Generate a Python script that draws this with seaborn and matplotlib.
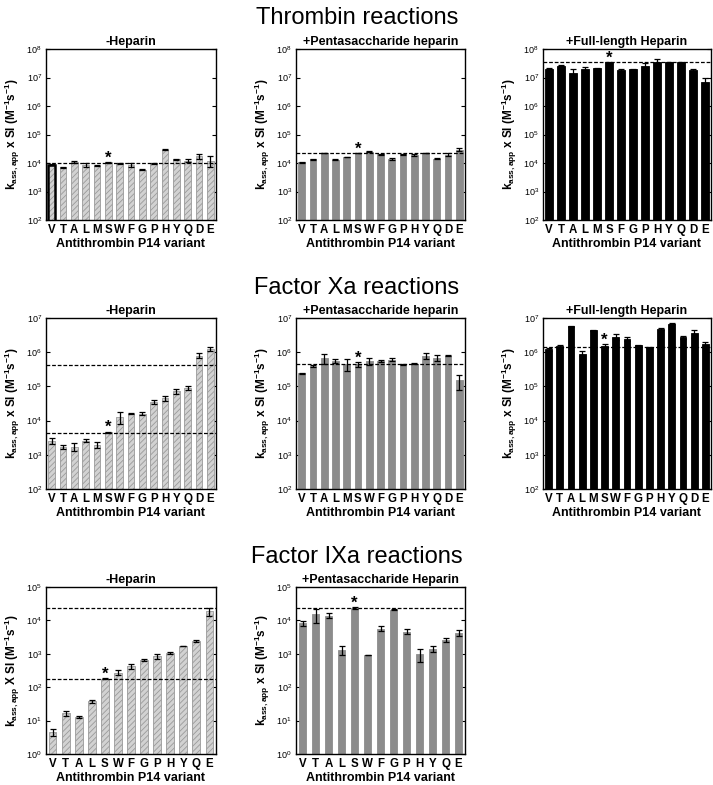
import numpy as np
import pandas as pd
import seaborn as sns
import matplotlib.pyplot as plt

# categories (antithrombin P14 variants)
cats_all = list("VTALMSWFGPHYQDE")
cats_thr_full = list("VTALMSFGPHYQDE")
cats_ixa = list("VTALSWFGPHYQE")

# thrombin
thr_hep_vals = [8.7e3, 7.1e3, 1.1e4, 8.5e3, 8.1e3, 1.05e4, 9.5e3, 8.5e3, 5.9e3, 9.8e3, 2.9e4, 1.35e4, 1.2e4, 1.75e4, 1.2e4]
thr_hep_errs = [4e2, 3e2, 6e2, 1.5e3, 3e2, 6e2, 4e2, 1.2e3, 3e2, 3e2, 8e2, 8e2, 1.5e3, 4e3, 5e3]
thr_hep_ref = [1.0e4]

thr_penta_vals = [1.05e4, 1.35e4, 2.25e4, 1.3e4, 1.63e4, 2.25e4, 2.45e4, 2.0e4, 1.38e4, 2.0e4, 1.9e4, 2.25e4, 1.42e4, 1.97e4, 2.95e4]
thr_penta_errs = [4e2, 6e2, 5e2, 5e2, 5e2, 5e2, 1e3, 1.5e3, 6e2, 1e3, 1e3, 5e2, 6e2, 2.5e3, 3e3]
thr_penta_ref = [2.25e4]

thr_full_vals = [2.02e7, 2.58e7, 1.42e7, 1.97e7, 2.13e7, 3.38e7, 1.86e7, 1.97e7, 2.58e7, 3.57e7, 3.38e7, 3.38e7, 1.86e7, 7.2e6]
thr_full_errs = [8e5, 1e6, 5e6, 3e6, 8e5, 1e6, 1.5e6, 8e5, 6e6, 9e6, 1e6, 1e6, 1.5e6, 2.5e6]
thr_full_ref = [3.4e7]

# factor Xa
xa_hep_vals = [2.58e3, 1.7e3, 1.7e3, 2.6e3, 1.97e3, 4.5e3, 1.3e4, 1.6e4, 1.6e4, 3.55e4, 4.6e4, 7.2e4, 9.1e4, 8.0e5, 1.25e6]
xa_hep_errs = [5e2, 2.5e2, 4.5e2, 3e2, 4e2, 3e2, 5e3, 5e2, 1.5e3, 4e3, 8e3, 1.2e4, 1.2e4, 1.2e5, 2e5]
xa_hep_ref = [4.3e3, 4.3e5]

xa_penta_vals = [2.4e5, 3.9e5, 6.8e5, 5.7e5, 4.6e5, 4.4e5, 5.5e5, 5.5e5, 6.1e5, 4.4e5, 4.6e5, 7.9e5, 6.8e5, 8.0e5, 1.5e5]
xa_penta_errs = [1e4, 2e4, 2.2e5, 8e4, 1.7e5, 6e4, 1.2e5, 4e4, 5e4, 1e4, 2e4, 1.7e5, 1.4e5, 3e4, 7e4]
xa_penta_ref = [4.4e5]

xa_full_vals = [1.2e6, 1.5e6, 5.7e6, 9.0e5, 4.4e6, 1.5e6, 2.8e6, 2.5e6, 1.6e6, 1.4e6, 4.7e6, 6.8e6, 2.7e6, 3.6e6, 1.7e6]
xa_full_errs = [1e5, 1.5e5, 3e5, 1.5e5, 1e5, 2e5, 5e5, 3.5e5, 5e4, 5e4, 3e5, 2e5, 2e5, 1e6, 3e5]
xa_full_ref = [1.43e6]

# factor IXa
ixa_hep_vals = [4.6, 16.5, 13, 38, 181, 275, 420, 660, 840, 1070, 1730, 2400, 1.9e4]
ixa_hep_errs = [1.2, 2.5, 0.8, 4, 5, 50, 60, 60, 120, 80, 40, 200, 5e3]
ixa_hep_ref = [181, 2.4e4]

ixa_penta_vals = [8.3e3, 1.55e4, 1.4e4, 1.3e3, 2.35e4, 930, 5.7e3, 2.1e4, 4.6e3, 960, 1.42e3, 2.6e3, 4.3e3]
ixa_penta_errs = [1.3e3, 7e3, 2.5e3, 4e2, 1.5e3, 10, 1e3, 1e3, 8e2, 4e2, 2.5e2, 3e2, 9e2]
ixa_penta_ref = [2.3e4]

sns.set_style("ticks")
plt.rcParams["font.family"] = ["Liberation Sans", "DejaVu Sans"]
plt.rcParams["mathtext.fontset"] = "custom"
plt.rcParams["mathtext.rm"] = "Liberation Sans:bold"
plt.rcParams["mathtext.it"] = "Liberation Sans:bold"
plt.rcParams["mathtext.bf"] = "Liberation Sans:bold"
plt.rcParams["hatch.color"] = "#9a9a9a"
plt.rcParams["hatch.linewidth"] = 0.6
for key in ["text.color", "axes.labelcolor", "xtick.color", "ytick.color", "axes.edgecolor"]:
    plt.rcParams[key] = "black"

styles = {
    "hatch": dict(color="#d2d2d2", edgecolor="#9a9a9a", hatch="//////", linewidth=0.6),
    "penta": dict(color="#8c8c8c", edgecolor="#8c8c8c", linewidth=0.6),
    "full": dict(color="black", edgecolor="black", linewidth=0.6),
}

W, H = 713, 785
fig = plt.figure(figsize=(W / 100, H / 100), dpi=100)


def make_ax(x0, x1, y0, y1):
    return fig.add_axes([x0 / W, 1 - y1 / H, (x1 - x0) / W, (y1 - y0) / H])


def panel(ax, cats, vals, errs, refs, style, title, ylim, mult="x"):
    df = pd.DataFrame({"variant": cats, "k": vals})
    ax.set_yscale("log")
    sns.barplot(data=df, x="variant", y="k", ax=ax, errorbar=None,
                width=0.6, **styles[style])
    ax.errorbar(np.arange(len(cats)), vals, yerr=errs, fmt="none",
                ecolor="black", elinewidth=0.9, capsize=2.5, capthick=0.9)
    for r in refs:
        ax.axhline(r, ls=(0, (3, 1.5)), color="black", lw=0.9)
    i = cats.index("S")
    ax.text(i, (vals[i] + errs[i]) * 0.95, "*", ha="center", va="baseline",
            fontsize=12, fontweight="bold")
    ax.set_ylim(*ylim)
    ax.set_xlim(-0.5, len(cats) - 0.5)
    ax.set_title(title, fontsize=9, fontweight="bold", pad=3)
    ax.set_xlabel("Antithrombin P14 variant", fontsize=9, fontweight="bold", labelpad=1.5)
    ax.set_ylabel(r"$k_{ass,app}$ " + mult + r" SI (M$^{-1}$s$^{-1}$)",
                  fontsize=8.5, fontweight="bold", labelpad=3)
    ax.tick_params(axis="x", length=0, labelsize=8.3, pad=3)
    ax.tick_params(axis="y", which="major", direction="in", right=True,
                   length=3, width=0.8, labelsize=6.5, pad=3)
    ax.tick_params(axis="y", which="minor", length=0, right=False, left=False)
    for lab in ax.get_xticklabels():
        lab.set_fontweight("bold")
    for s in ax.spines.values():
        s.set_linewidth(1.0)
        s.set_visible(True)
    return ax


# row 1: thrombin
fig.text(357 / W, 1 - 18 / H, "Thrombin reactions", ha="center", va="center", fontsize=17)
a = panel(make_ax(46, 216, 49, 220), cats_all, thr_hep_vals, thr_hep_errs, thr_hep_ref,
          "hatch", "-Heparin", (1e2, 1e8))
# V bar has a heavy outline in the original
a.bar(0, thr_hep_vals[0], width=0.6, fill=False, edgecolor="black", linewidth=1.8, zorder=3)
panel(make_ax(296, 465, 49, 220), cats_all, thr_penta_vals, thr_penta_errs, thr_penta_ref,
      "penta", "+Pentasaccharide heparin", (1e2, 1e8))
panel(make_ax(543, 711, 49, 220), cats_thr_full, thr_full_vals, thr_full_errs, thr_full_ref,
      "full", "+Full-length Heparin", (1e2, 1e8))

# row 2: factor Xa
fig.text(357 / W, 1 - 288 / H, "Factor Xa reactions", ha="center", va="center", fontsize=17)
panel(make_ax(46, 216, 318, 489), cats_all, xa_hep_vals, xa_hep_errs, xa_hep_ref,
      "hatch", "-Heparin", (1e2, 1e7))
panel(make_ax(296, 465, 318, 489), cats_all, xa_penta_vals, xa_penta_errs, xa_penta_ref,
      "penta", "+Pentasaccharide heparin", (1e2, 1e7))
panel(make_ax(543, 711, 318, 489), cats_all, xa_full_vals, xa_full_errs, xa_full_ref,
      "full", "+Full-length Heparin", (1e2, 1e7))

# row 3: factor IXa
fig.text(357 / W, 1 - 557 / H, "Factor IXa reactions", ha="center", va="center", fontsize=17)
panel(make_ax(46, 216, 587, 754), cats_ixa, ixa_hep_vals, ixa_hep_errs, ixa_hep_ref,
      "hatch", "-Heparin", (1e0, 1e5), mult="X")
panel(make_ax(296, 465, 587, 754), cats_ixa, ixa_penta_vals, ixa_penta_errs, ixa_penta_ref,
      "penta", "+Pentasaccharide Heparin", (1e0, 1e5))

fig.savefig("out.png", dpi=100)
